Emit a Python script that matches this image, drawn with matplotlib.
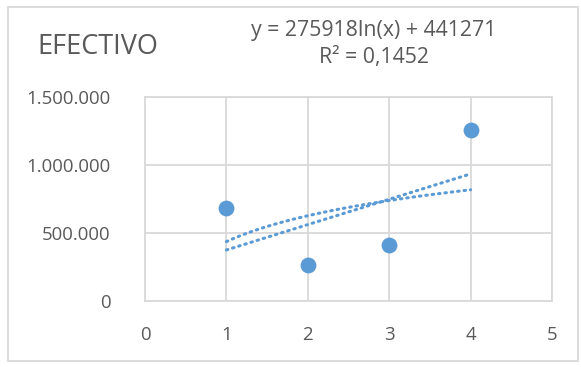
import numpy as np
import matplotlib
matplotlib.use('Agg')
import matplotlib.pyplot as plt
from matplotlib.ticker import FuncFormatter
from matplotlib.patches import Rectangle

##data
x_vals = [1, 2, 3, 4]
y_vals = [686000, 263000, 414000, 1257000]
title = 'EFECTIVO'
eq_text = 'y = 275918ln(x) + 441271\nR² = 0,1452'

plt.rcParams['font.family'] = ['Open Sans', 'DejaVu Sans']

blue = '#5B9BD5'
grey_txt = '#595959'
grid_c = '#D9D9D9'

fig = plt.figure(figsize=(5.81, 3.67), dpi=100)
ax = fig.add_axes([0.2496, 0.1798, 0.7005, 0.5559])

##trendlines (linear + log) fitted on the points
x = np.array(x_vals, dtype=float)
y = np.array(y_vals, dtype=float)
m, b = np.polyfit(x, y, 1)
a, c = np.polyfit(np.log(x), y, 1)
xt = np.linspace(1, 4, 100)
ax.plot(xt, m * xt + b, color=blue, lw=2.2, ls=(0, (0.5, 1.6)), dash_capstyle='round', zorder=2)
ax.plot(xt, a * np.log(xt) + c, color=blue, lw=2.2, ls=(0, (0.5, 1.6)), dash_capstyle='round', zorder=2)

ax.scatter(x_vals, y_vals, s=130, color=blue, zorder=3, linewidths=0)

ax.set_xlim(0, 5)
ax.set_ylim(0, 1500000)
ax.set_xticks(range(0, 6))
ax.set_yticks([0, 500000, 1000000, 1500000])
ax.yaxis.set_major_formatter(FuncFormatter(lambda v, p: f'{int(v):,}'.replace(',', '.')))
ax.grid(True, color=grid_c, lw=1.3)
ax.set_axisbelow(True)
for s in ax.spines.values():
    s.set_color(grid_c)
    s.set_linewidth(1.3)
ax.tick_params(length=0, labelsize=13.4, colors=grey_txt)
ax.tick_params(axis='x', pad=18)
ax.tick_params(axis='y', pad=25)

fig.text(0.064, 0.872, title, fontsize=19.5, color=grey_txt, va='center', ha='left')
fig.text(0.643, 0.880, eq_text, fontsize=15.3, color=grey_txt, va='center', ha='center', linespacing=1.35)

fig.patches.append(Rectangle((0.014, 0.016), 0.98, 0.966, transform=fig.transFigure,
                             fill=False, edgecolor=grid_c, lw=1.3))

fig.savefig('out.png', dpi=100)
